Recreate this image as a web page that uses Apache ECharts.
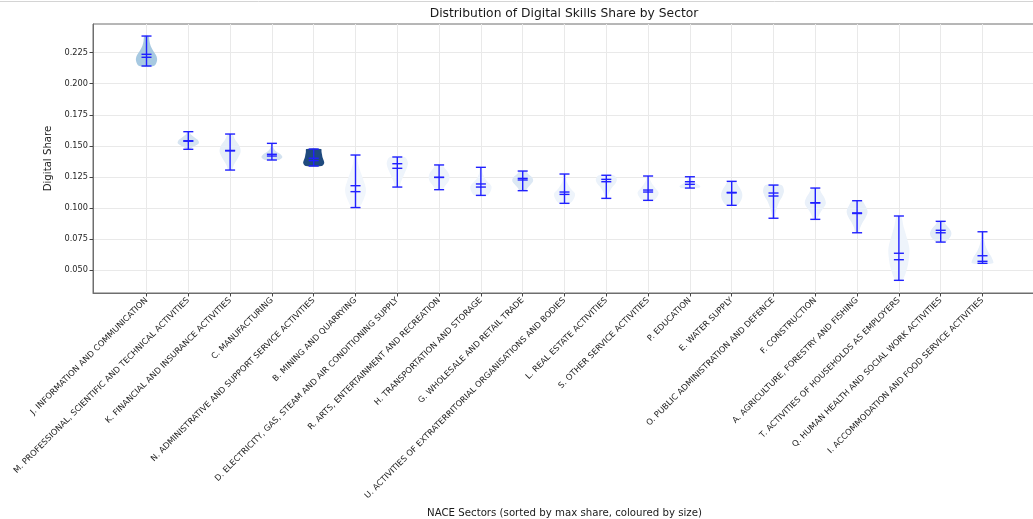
<!DOCTYPE html>
<html>
<head>
<meta charset="utf-8">
<script src="https://cdn.jsdelivr.net/npm/echarts@6/dist/echarts.min.js"></script>
<style>
html,body{margin:0;padding:0;background:#fff;}
#chart{width:1033px;height:519px;}
</style>
</head>
<body>
<div id="chart"></div>
<script>
const categories = [
  "J. INFORMATION AND COMMUNICATION",
  "M. PROFESSIONAL, SCIENTIFIC AND TECHNICAL ACTIVITIES",
  "K. FINANCIAL AND INSURANCE ACTIVITIES",
  "C. MANUFACTURING",
  "N. ADMINISTRATIVE AND SUPPORT SERVICE ACTIVITIES",
  "B. MINING AND QUARRYING",
  "D. ELECTRICITY, GAS, STEAM AND AIR CONDITIONING SUPPLY",
  "R. ARTS, ENTERTAINMENT AND RECREATION",
  "H. TRANSPORTATION AND STORAGE",
  "G. WHOLESALE AND RETAIL TRADE",
  "U. ACTIVITIES OF EXTRATERRITORIAL ORGANISATIONS AND BODIES",
  "L. REAL ESTATE ACTIVITIES",
  "S. OTHER SERVICE ACTIVITIES",
  "P. EDUCATION",
  "E. WATER SUPPLY",
  "O. PUBLIC ADMINISTRATION AND DEFENCE",
  "F. CONSTRUCTION",
  "A. AGRICULTURE, FORESTRY AND FISHING",
  "T. ACTIVITIES OF HOUSEHOLDS AS EMPLOYERS",
  "Q. HUMAN HEALTH AND SOCIAL WORK ACTIVITIES",
  "I. ACCOMMODATION AND FOOD SERVICE ACTIVITIES"
];
const maxVals    = [0.2384, 0.1614, 0.1595, 0.1520, 0.1474, 0.1426, 0.1410, 0.1346, 0.1327, 0.1297, 0.1273, 0.1263, 0.1257, 0.1251, 0.1214, 0.1184, 0.1160, 0.1058, 0.0935, 0.0892, 0.0808];
const minVals    = [0.2143, 0.1472, 0.1305, 0.1386, 0.1338, 0.1003, 0.1168, 0.1147, 0.1101, 0.1139, 0.1037, 0.1077, 0.1061, 0.1160, 0.1021, 0.0917, 0.0908, 0.0800, 0.0417, 0.0725, 0.0554];
const meanVals   = [0.2237, 0.1541, 0.1463, 0.1432, 0.1400, 0.1179, 0.1356, 0.1246, 0.1193, 0.1238, 0.1128, 0.1230, 0.1144, 0.1211, 0.1125, 0.1120, 0.1042, 0.0960, 0.0635, 0.0820, 0.0615];
const medianVals = [0.2213, 0.1537, 0.1459, 0.1418, 0.1381, 0.1131, 0.1319, 0.1246, 0.1168, 0.1225, 0.1109, 0.1211, 0.1128, 0.1190, 0.1121, 0.1096, 0.1040, 0.0955, 0.0583, 0.0800, 0.0570];
// relative density (violin width) read at 7 evenly spaced levels from min to max
const densJ = [0.70, 1.00, 0.95, 0.65, 0.40, 0.28, 0.20];
const densM = [0.15, 0.55, 1.00, 0.95, 0.60, 0.25, 0.10];
const densK = [0.15, 0.40, 0.75, 1.00, 0.90, 0.50, 0.20];
const densC = [0.60, 1.00, 0.85, 0.45, 0.20, 0.10, 0.05];
const densN = [0.75, 1.00, 0.95, 0.85, 0.80, 0.75, 0.70];
const densB = [0.30, 0.80, 1.00, 0.80, 0.50, 0.25, 0.10];
const densD = [0.20, 0.35, 0.55, 0.75, 0.95, 1.00, 0.70];
const densR = [0.30, 0.60, 0.90, 1.00, 0.90, 0.60, 0.30];
const densH = [0.60, 0.95, 1.00, 0.60, 0.30, 0.15, 0.10];
const densG = [0.25, 0.50, 0.80, 1.00, 0.90, 0.55, 0.30];
const densU = [0.50, 0.90, 1.00, 0.60, 0.30, 0.15, 0.10];
const densL = [0.10, 0.20, 0.35, 0.60, 0.90, 1.00, 0.70];
const densS = [0.50, 0.90, 1.00, 0.70, 0.40, 0.20, 0.10];
const densP = [0.80, 1.00, 0.75, 0.50, 0.30, 0.20, 0.15];
const densE = [0.50, 0.85, 1.00, 1.00, 0.85, 0.60, 0.35];
const densO = [0.10, 0.20, 0.35, 0.55, 0.85, 1.00, 0.75];
const densF = [0.15, 0.40, 0.70, 1.00, 0.90, 0.60, 0.30];
const densA = [0.15, 0.30, 0.55, 0.85, 1.00, 0.80, 0.45];
const densT = [0.30, 0.75, 0.95, 1.00, 0.75, 0.45, 0.20];
const densQ = [0.40, 0.80, 1.00, 1.00, 0.80, 0.50, 0.25];
const densI = [1.00, 0.90, 0.60, 0.35, 0.20, 0.12, 0.08];
const densities = [densJ, densM, densK, densC, densN, densB, densD, densR, densH, densG, densU,
                   densL, densS, densP, densE, densO, densF, densA, densT, densQ, densI];
const yTicks = [0.05, 0.075, 0.1, 0.125, 0.15, 0.175, 0.2, 0.225];
const xTicks = categories.map((c, i) => i);
// fill colour per sector (coloured by size)
const bodyColors = ["#a7c9e1", "#d6e4f1", "#e6eff8", "#d3e2f0", "#1f4a7e", "#f1f6fc", "#eef4fb",
                    "#eef4fb", "#eef4fb", "#dce8f4", "#eef4fb", "#ebf2fa", "#eef4fb", "#eaf2fa",
                    "#e8f0f9", "#e7eff8", "#eaf1fa", "#e7eff8", "#eef4fb", "#e2ecf7", "#e8f0f9"];

const FONT = "DejaVu Sans";
const HALF = 0.25;   // half of violin width (category units)
const CAP = 0.12;    // half of cap line width
const LINE_COLOR = "#2020ff";

const seriesData = categories.map((c, i) => [i, minVals[i], maxVals[i], meanVals[i], medianVals[i]]);

const chart = echarts.init(document.getElementById('chart'), null, {renderer: 'canvas'});
chart.setOption({
  backgroundColor: '#ffffff',
  animation: false,
  title: {
    text: 'Distribution of Digital Skills Share by Sector',
    left: 564, top: 7.5, padding: 0,
    textAlign: 'center', textVerticalAlign: 'top',
    textStyle: {fontFamily: FONT, fontSize: 12.3, fontWeight: 'normal', color: '#1a1a1a'}
  },
  graphic: [{
    type: 'line', shape: {x1: 0, y1: 1.5, x2: 1033, y2: 1.5},
    style: {stroke: '#d4d4d4', lineWidth: 1}, silent: true
  }],
  grid: {left: 93, right: -3, top: 24, bottom: 226, outerBoundsMode: 'none', containLabel: false,
         show: true, borderColor: '#6e6e6e', borderWidth: 1, backgroundColor: 'transparent'},
  xAxis: {
    type: 'value', min: -1.28, max: 21.28,
    name: 'NACE Sectors (sorted by max share, coloured by size)',
    nameLocation: 'middle', nameGap: 215,
    nameTextStyle: {fontFamily: FONT, fontSize: 10.2, color: '#1a1a1a'},
    axisLine: {show: true, onZero: false, lineStyle: {color: '#6e6e6e', width: 1}},
    axisTick: {show: true, customValues: xTicks, length: 3.5, lineStyle: {color: '#444'}},
    axisLabel: {
      customValues: xTicks, rotate: 45, margin: 6,
      fontFamily: FONT, fontSize: 8.3, color: '#262626',
      formatter: v => categories[Math.round(v)] || ''
    },
    splitLine: {show: true, lineStyle: {color: '#e9e9e9', width: 1}}
  },
  yAxis: {
    type: 'value', min: 0.0315, max: 0.2481,
    name: 'Digital Share', nameLocation: 'middle', nameGap: 37,
    nameTextStyle: {fontFamily: FONT, fontSize: 10.2, color: '#1a1a1a'},
    axisLine: {show: true, onZero: false, lineStyle: {color: '#6e6e6e', width: 1}},
    axisTick: {show: true, customValues: yTicks, length: 3.5, lineStyle: {color: '#444'}},
    axisLabel: {
      customValues: yTicks, margin: 5,
      fontFamily: FONT, fontSize: 8.2, color: '#262626',
      formatter: v => v.toFixed(3)
    },
    splitLine: {show: true, lineStyle: {color: '#e9e9e9', width: 1}}
  },
  series: [{
    type: 'custom',
    name: 'violins',
    clip: false,
    data: seriesData,
    encode: {x: 0, y: [1, 2]},
    renderItem: function (params, api) {
      const i = api.value(0);
      const lo = api.value(1), hi = api.value(2);
      const dens = densities[i];
      const n = dens.length;
      const left = [], right = [];
      for (let k = 0; k < n; k++) {
        const v = lo + (hi - lo) * k / (n - 1);
        left.push(api.coord([i - HALF * dens[k], v]));
        right.push(api.coord([i + HALF * dens[k], v]));
      }
      const pts = left.concat(right.reverse());
      return {
        type: 'polygon',
        shape: {points: pts, smooth: 0.35},
        style: {fill: bodyColors[i], stroke: null}
      };
    },
    z: 2
  }, {
    type: 'custom',
    name: 'stats',
    clip: false,
    data: seriesData,
    encode: {x: 0, y: [1, 2, 3, 4]},
    renderItem: function (params, api) {
      const i = api.value(0);
      const lo = api.value(1), hi = api.value(2), mean = api.value(3), med = api.value(4);
      const st = {stroke: LINE_COLOR, lineWidth: 1.4};
      const seg = (x1, y1, x2, y2) => {
        const a = api.coord([x1, y1]), b = api.coord([x2, y2]);
        return {type: 'line', shape: {x1: a[0], y1: a[1], x2: b[0], y2: b[1]}, style: st};
      };
      return {
        type: 'group',
        children: [
          seg(i, lo, i, hi),
          seg(i - CAP, lo, i + CAP, lo),
          seg(i - CAP, hi, i + CAP, hi),
          seg(i - CAP, mean, i + CAP, mean),
          seg(i - CAP, med, i + CAP, med)
        ]
      };
    },
    z: 3
  }]
});
</script>
</body>
</html>
